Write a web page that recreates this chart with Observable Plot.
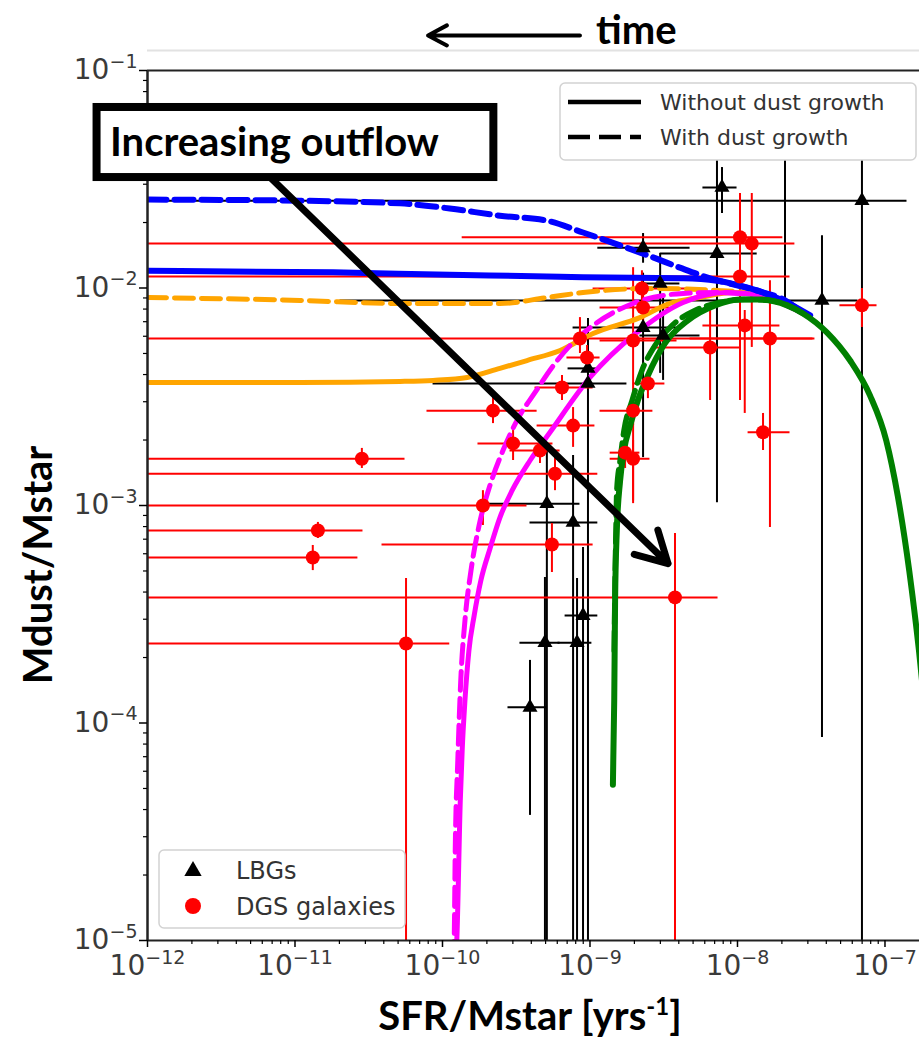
<!DOCTYPE html>
<html>
<head>
<meta charset="utf-8">
<script src="https://cdn.jsdelivr.net/npm/d3@7"></script>
<script src="https://cdn.jsdelivr.net/npm/@observablehq/plot@0.6"></script>
<style>
  body { margin: 0; background: #fff; }
  #chart { width: 919px; height: 1043px; }
  #chart svg g[aria-label="x-axis tick label"] text,
  #chart svg g[aria-label="y-axis tick label"] text { fill: #3a3a3a; }
</style>
</head>
<body>
<div id="chart"></div>
<script>
// ---------- axis ticks ----------
const xTicks = [1e-12, 1e-11, 1e-10, 1e-9, 1e-8, 1e-7];
const xTickLabels = ["10⁻¹²", "10⁻¹¹", "10⁻¹⁰", "10⁻⁹", "10⁻⁸", "10⁻⁷"];
const yTicks = [1e-5, 1e-4, 1e-3, 1e-2, 1e-1];
const yTickLabels = ["10⁻⁵", "10⁻⁴", "10⁻³", "10⁻²", "10⁻¹"];

// ---------- DGS galaxies (SFR/Mstar, Mdust/Mstar, error bounds) ----------
const dgsX   = [2.84e-11, 1.43e-11, 1.32e-11, 5.66e-11, 1.88e-10, 5.52e-10, 3.77e-9, 5.79e-10, 4.58e-10, 3.01e-10, 2.20e-10, 7.68e-10, 6.46e-10, 9.55e-10, 8.55e-10, 1.96e-9, 2.25e-9, 2.29e-9, 2.47e-9, 1.96e-9, 1.73e-9, 1.96e-9, 6.52e-9, 1.04e-8, 1.25e-8, 1.04e-8, 1.12e-8, 1.66e-8, 1.49e-8, 6.98e-8];
const dgsY   = [1.64e-3, 7.67e-4, 5.77e-4, 2.32e-4, 1.0e-3, 6.62e-4, 3.78e-4, 1.40e-3, 1.79e-3, 1.93e-3, 2.73e-3, 2.33e-3, 3.49e-3, 4.79e-3, 5.86e-3, 5.74e-3, 9.95e-3, 8.13e-3, 3.64e-3, 2.73e-3, 1.75e-3, 1.64e-3, 5.33e-3, 1.71e-2, 1.60e-2, 1.13e-2, 6.73e-3, 5.86e-3, 2.17e-3, 8.32e-3];
const dgsXlo = [5e-13, 5e-13, 5e-13, 5e-13, 5e-13, 3.89e-11, 5e-13, 5e-13, 2.87e-10, 1.74e-10, 7.85e-11, 4.38e-10, 4.24e-10, 6.98e-10, 5e-13, 1.17e-9, 1.05e-9, 1.17e-9, 1.96e-9, 1.17e-9, 1.37e-9, 1.37e-9, 2.76e-9, 1.36e-10, 5e-13, 5e-13, 5.83e-9, 4.77e-9, 1.18e-8, 4.95e-8];
const dgsXhi = [5.57e-11, 2.89e-11, 2.67e-11, 1.12e-10, 3.74e-10, 1.05e-9, 7.38e-9, 1.13e-9, 6.27e-10, 5.61e-10, 4.38e-10, 1.08e-9, 1.05e-9, 1.17e-9, 3.25e-8, 3.89e-9, 5.57e-9, 3.48e-9, 3.22e-9, 2.67e-9, 2.18e-9, 2.55e-9, 1.04e-8, 2.03e-8, 2.45e-8, 2.27e-8, 1.94e-8, 3.35e-8, 2.27e-8, 8.83e-8];
const dgsYlo = [1.48e-3, 7.05e-4, 5.02e-4, 5e-6, 8.09e-4, 4.92e-4, 5e-6, 1.17e-3, 1.56e-3, 1.61e-3, 2.38e-3, 1.85e-3, 3.04e-3, 4.27e-3, 5.0e-3, 1.05e-3, 8.32e-3, 6.73e-3, 3.10e-3, 2.33e-3, 1.48e-3, 1.02e-3, 3.04e-3, 3.04e-3, 5.33e-3, 9.53e-3, 2.65e-3, 7.92e-4, 1.79e-3, 6.58e-3];
const dgsYhi = [1.83e-3, 8.36e-4, 6.55e-4, 4.62e-4, 1.17e-3, 8.26e-4, 7.43e-4, 1.66e-3, 2.06e-3, 2.29e-3, 3.14e-3, 2.82e-3, 3.96e-3, 5.44e-3, 7.31e-3, 1.24e-2, 1.20e-2, 9.75e-3, 4.18e-3, 3.10e-3, 2.06e-3, 1.99e-3, 7.88e-3, 2.72e-2, 2.72e-2, 1.34e-2, 7.88e-3, 1.08e-2, 2.65e-3, 9.95e-3];

// ---------- LBGs ----------
const lbgX   = [7.85e-9, 6.98e-8, 2.29e-9, 7.26e-9, 2.99e-9, 2.29e-9, 3.13e-9, 9.69e-10, 9.69e-10, 3.74e-8, 5.10e-10, 7.68e-10, 8.97e-10, 4.95e-10, 8.17e-10, 3.92e-10, 2.10e-8];
const lbgY   = [2.90e-2, 2.52e-2, 1.53e-2, 1.44e-2, 1.05e-2, 6.58e-3, 6.05e-3, 4.27e-3, 3.64e-3, 8.77e-3, 1.02e-3, 8.36e-4, 3.12e-4, 2.34e-4, 2.34e-4, 1.18e-4, 5.89e-2];
const lbgXlo = [5.83e-9, 5e-13, 1.13e-9, 2.99e-9, 2.18e-9, 7.68e-10, 2.18e-9, 7.10e-10, 8.63e-11, 2.02e-11, 1.88e-10, 3.92e-10, 6.78e-10, 3.35e-10, 6.07e-10, 2.78e-10, 1.80e-8];
const lbgXhi = [9.93e-9, 1.41e-7, 4.77e-9, 1.36e-8, 4.07e-9, 3.89e-9, 5.57e-9, 1.11e-9, 1.78e-9, 6.56e-8, 8.55e-10, 1.13e-9, 1.13e-9, 6.27e-10, 1.03e-9, 5.10e-10, 2.45e-8];
const lbgYlo = [2.20e-2, 5e-6, 1.30e-2, 1.03e-3, 4.05e-3, 1.66e-3, 3.76e-3, 3.76e-3, 5e-6, 8.57e-5, 5e-6, 5e-6, 5e-6, 5e-6, 5e-6, 3.76e-5, 8.95e-3];
const lbgYhi = [3.58e-2, 4.29e-2, 1.78e-2, 4.0e-2, 1.44e-2, 1.17e-2, 9.04e-3, 7.24e-3, 5.44e-3, 1.74e-2, 1.79e-3, 1.70e-3, 6.41e-4, 4.67e-4, 4.62e-4, 1.94e-4, 7.28e-2];

// ---------- model tracks ----------
const blueSolidX = [1e-12, 1.81e-11, 1.12e-10, 5.10e-10, 8.97e-10, 4.28e-9, 7.26e-9, 1.22e-8, 2.03e-8, 3.11e-8];
const blueSolidY = [1.20e-2, 1.18e-2, 1.15e-2, 1.13e-2, 1.12e-2, 1.11e-2, 1.08e-2, 9.95e-3, 8.77e-3, 7.48e-3];
const blueDashX = [1e-12, 1.08e-11, 5.15e-11, 1.12e-10, 2.45e-10, 5.10e-10, 8.97e-10, 1.60e-9, 2.55e-9, 4.07e-9, 6.21e-9, 9.31e-9, 1.42e-8, 2.10e-8, 2.78e-8];
const blueDashY = [2.55e-2, 2.52e-2, 2.45e-2, 2.32e-2, 2.15e-2, 2.04e-2, 1.80e-2, 1.57e-2, 1.40e-2, 1.24e-2, 1.12e-2, 1.04e-2, 9.64e-3, 8.77e-3, 7.64e-3];
const orangeSolidX = [1e-12, 1.08e-11, 5.15e-11, 8.63e-11, 1.47e-10, 2.45e-10, 3.74e-10, 6.27e-10, 1.05e-9, 2.18e-9, 3.48e-9, 5.57e-9, 9.31e-9, 1.42e-8, 2.10e-8, 2.78e-8];
const orangeSolidY = [3.68e-3, 3.68e-3, 3.72e-3, 3.76e-3, 3.88e-3, 4.27e-3, 4.64e-3, 5.16e-3, 6.18e-3, 7.31e-3, 8.49e-3, 9.04e-3, 9.53e-3, 9.34e-3, 8.68e-3, 7.64e-3];
const orangeDashX = [1e-12, 1.08e-11, 5.15e-11, 2.45e-10, 5.10e-10, 8.97e-10, 2.55e-9, 7.26e-9, 1.42e-8, 2.27e-8, 2.78e-8];
const orangeDashY = [9.04e-3, 8.77e-3, 8.49e-3, 8.49e-3, 9.04e-3, 9.53e-3, 9.95e-3, 9.75e-3, 9.34e-3, 8.49e-3, 7.64e-3];
const magentaSolidX = [1.23e-10, 1.25e-10, 1.32e-10, 1.36e-10, 1.42e-10, 1.51e-10, 1.64e-10, 1.82e-10, 2.10e-10, 2.45e-10, 2.96e-10, 3.92e-10, 5.36e-10, 1.0e-9, 2.08e-9, 4.28e-9, 8.49e-9, 1.42e-8, 1.94e-8, 2.78e-8];
const magentaSolidY = [8.1e-6, 1e-5, 4.4e-5, 7.5e-5, 1.27e-4, 2.15e-4, 3.12e-4, 4.52e-4, 6.34e-4, 8.8e-4, 1.17e-3, 1.61e-3, 2.17e-3, 3.88e-3, 6.24e-3, 8.58e-3, 9.53e-3, 9.24e-3, 8.58e-3, 7.64e-3];
const magentaDashX = [1.18e-10, 1.20e-10, 1.22e-10, 1.27e-10, 1.33e-10, 1.42e-10, 1.56e-10, 1.77e-10, 2.10e-10, 2.57e-10, 3.25e-10, 4.24e-10, 5.52e-10, 7.55e-10, 1.05e-9, 1.96e-9, 4.28e-9, 7.26e-9, 1.22e-8, 1.94e-8, 2.78e-8];
const magentaDashY = [8.1e-6, 1e-5, 2.59e-5, 6.73e-5, 1.57e-4, 2.96e-4, 5.02e-4, 8.09e-4, 1.24e-3, 1.79e-3, 2.51e-3, 3.31e-3, 4.31e-3, 5.56e-3, 6.73e-3, 8.49e-3, 9.44e-3, 9.53e-3, 9.34e-3, 8.58e-3, 7.64e-3];
const greenSolidX = [1.43e-9, 1.46e-9, 1.48e-9, 1.52e-9, 1.60e-9, 1.70e-9, 1.87e-9, 2.11e-9, 2.47e-9, 3.22e-9, 4.61e-9, 7.03e-9, 1.04e-8, 1.42e-8, 2.17e-8, 2.78e-8, 4.05e-8, 5.80e-8, 7.91e-8, 1.02e-7, 1.22e-7, 1.46e-7, 1.70e-7, 1.96e-7];
const greenSolidY = [5.2e-5, 1.27e-4, 3.66e-4, 7.67e-4, 1.30e-3, 1.79e-3, 2.33e-3, 3.04e-3, 3.96e-3, 5.56e-3, 7.10e-3, 8.32e-3, 8.86e-3, 8.86e-3, 8.32e-3, 7.64e-3, 6.24e-3, 4.64e-3, 3.21e-3, 1.99e-3, 1.11e-3, 5.02e-4, 2.15e-4, 8.3e-5];
const greenDashX = [1.46e-9, 1.48e-9, 1.50e-9, 1.52e-9, 1.60e-9, 1.70e-9, 1.93e-9, 2.25e-9, 2.76e-9, 3.60e-9, 5.15e-9, 7.60e-9, 1.12e-8, 1.66e-8, 2.27e-8, 2.78e-8];
const greenDashY = [2.15e-4, 4.52e-4, 7.67e-4, 1.17e-3, 1.61e-3, 2.21e-3, 3.04e-3, 4.18e-3, 5.44e-3, 6.73e-3, 7.88e-3, 8.58e-3, 8.86e-3, 8.77e-3, 8.22e-3, 7.64e-3];

// ---------- annotations (data coordinates) ----------
const outflowArrow = [{x1: 5.61e-12, y1: 3.66e-2, x2: 3.38e-9, y2: 5.41e-4}];
const outflowBox = [{x1: 4.55e-13, x2: 2.23e-10, y1: 6.76e-2, y2: 3.22e-2}];
const outflowLabel = [{x: 5.57e-13, y: 4.62e-2, text: "Increasing outflow"}];
const timeArrow = [{x1: 8.55e-10, y1: 0.145, x2: 7.98e-11, y2: 0.145}];
const timeLabel = [{x: 1.10e-9, y: 0.152, text: "time"}];
const topRule = [0.1236];

// ---------- legend text ----------
const styleLegend = ["Without dust growth", "With dust growth"];
const sampleLegend = ["LBGs", "DGS galaxies"];

// ---------- tables ----------
const dgs = dgsX.map((x, i) => ({x, y: dgsY[i], xlo: dgsXlo[i], xhi: dgsXhi[i], ylo: dgsYlo[i], yhi: dgsYhi[i]}));
const lbg = lbgX.map((x, i) => ({x, y: lbgY[i], xlo: lbgXlo[i], xhi: lbgXhi[i], ylo: lbgYlo[i], yhi: lbgYhi[i]}));
const pairs = (xs, ys) => xs.map((x, i) => [x, ys[i]]);

const curves = [
  {d: pairs(orangeSolidX, orangeSolidY), color: "#ffa500", w: 5, dash: null},
  {d: pairs(orangeDashX, orangeDashY), color: "#ffa500", w: 5, dash: "19,8"},
  {d: pairs(magentaSolidX, magentaSolidY), color: "#ff00ff", w: 5, dash: null},
  {d: pairs(magentaDashX, magentaDashY), color: "#ff00ff", w: 5, dash: "19,8"},
  {d: pairs(blueSolidX, blueSolidY), color: "#0000ff", w: 6, dash: null},
  {d: pairs(blueDashX, blueDashY), color: "#0000ff", w: 6, dash: "19,8"},
  {d: pairs(greenDashX, greenDashY), color: "#008000", w: 5.5, dash: "19,8"},
  {d: pairs(greenSolidX, greenSolidY), color: "#008000", w: 6, dash: null}
];

const minorX = [];
for (let e = -12; e <= -7; e++) for (let k = 2; k <= 9; k++) { const v = k * 10 ** e; if (v < 1.7e-7) minorX.push(v); }
const minorY = [];
for (let e = -5; e <= -2; e++) for (let k = 2; k <= 9; k++) minorY.push(k * 10 ** e);

const plot = Plot.plot({
  width: 919,
  height: 1043,
  marginLeft: 147,
  marginRight: 0,
  marginTop: 70,
  marginBottom: 103,
  x: {type: "log", domain: [1e-12, 1.714e-7]},
  y: {type: "log", domain: [1e-5, 1e-1]},
  style: {fontFamily: "DejaVu Sans", background: "white", overflow: "visible"},
  marks: [
    Plot.ruleY(topRule, {stroke: "#e2e2e2", strokeWidth: 2}),
    // error bars
    Plot.ruleY(lbg, {y: "y", x1: "xlo", x2: "xhi", stroke: "black", strokeWidth: 2, clip: true}),
    Plot.ruleX(lbg, {x: "x", y1: "ylo", y2: "yhi", stroke: "black", strokeWidth: 2, clip: true}),
    Plot.ruleY(dgs, {y: "y", x1: "xlo", x2: "xhi", stroke: "#ff0000", strokeWidth: 2, clip: true}),
    Plot.ruleX(dgs, {x: "x", y1: "ylo", y2: "yhi", stroke: "#ff0000", strokeWidth: 2, clip: true}),
    // model tracks
    ...curves.map(c => Plot.line(c.d, {stroke: c.color, strokeWidth: c.w, strokeDasharray: c.dash, curve: "monotone-x", clip: true})),
    // markers
    Plot.dot(lbg, {x: "x", y: "y", symbol: "triangle", r: 5.6, fill: "black", clip: true}),
    Plot.dot(dgs, {x: "x", y: "y", r: 7, fill: "#ff0000", clip: true}),
    // frame
    Plot.ruleX([1e-12], {stroke: "#222", strokeWidth: 2.5}),
    Plot.ruleY([1e-5, 1e-1], {stroke: "#222", strokeWidth: 2}),
    // axes
    Plot.axisX(xTicks, {anchor: "bottom", tickSize: 7, tickPadding: 8, fontSize: 28, tickFormat: d => xTickLabels[xTicks.indexOf(d)], label: null, strokeWidth: 1.5}),
    Plot.axisX(minorX, {anchor: "bottom", tickSize: 4, tickFormat: () => "", label: null, strokeWidth: 1.2}),
    Plot.axisY(yTicks, {anchor: "left", tickSize: 8, tickPadding: 2, fontSize: 28, tickFormat: d => yTickLabels[yTicks.indexOf(d)], label: null, strokeWidth: 1.5}),
    Plot.axisY(minorY, {anchor: "left", tickSize: 4, tickFormat: () => "", label: null, strokeWidth: 1.2}),
    // annotations
    Plot.arrow(outflowArrow, {x1: "x1", y1: "y1", x2: "x2", y2: "y2", stroke: "black", strokeWidth: 7, headLength: 7.5, headAngle: 58}),
    Plot.rect(outflowBox, {x1: "x1", x2: "x2", y1: "y1", y2: "y2", fill: "white", stroke: "black", strokeWidth: 8}),
    Plot.text(outflowLabel, {x: "x", y: "y", text: "text", textAnchor: "start", fontSize: 40, fontWeight: "bold", fontFamily: "Lato", fill: "black"}),
    Plot.arrow(timeArrow, {x1: "x1", y1: "y1", x2: "x2", y2: "y2", stroke: "black", strokeWidth: 4, headLength: 8, headAngle: 56}),
    Plot.text(timeLabel, {x: "x", y: "y", text: "text", textAnchor: "start", fontSize: 40, fontWeight: "bold", fontFamily: "Lato", fill: "black"})
  ]
});

document.getElementById("chart").appendChild(plot);
const svg = d3.select(plot);

// power-of-ten tick labels: base at full size, exponent raised and smaller
const plainDigits = {"⁻": "−", "⁰": "0", "¹": "1", "²": "2", "³": "3", "⁴": "4", "⁵": "5", "⁶": "6", "⁷": "7", "⁸": "8", "⁹": "9"};
svg.selectAll('g[aria-label="x-axis tick label"] text, g[aria-label="y-axis tick label"] text').each(function () {
  const t = d3.select(this);
  const s = t.text();
  if (!s) return;
  const exp = [...s.slice(2)].map(c => plainDigits[c] || c).join("");
  t.text(null);
  t.append("tspan").text(s.slice(0, 2));
  t.append("tspan").attr("font-size", "0.68em").attr("dy", "-0.62em").text(exp);
});

// legend: line styles
const lg1 = svg.append("g").attr("font-family", "DejaVu Sans").attr("font-size", 22).attr("fill", "#333").attr("text-anchor", "start");
lg1.append("rect").attr("x", 560).attr("y", 83).attr("width", 356).attr("height", 77).attr("rx", 5)
  .attr("fill", "white").attr("stroke", "#d2d2d2").attr("stroke-width", 1.5);
[null, "22,9"].forEach((dash, i) => {
  const yy = 102 + i * 35;
  lg1.append("line").attr("x1", 568).attr("x2", 641).attr("y1", yy).attr("y2", yy)
    .attr("stroke", "black").attr("stroke-width", 4.5).attr("stroke-dasharray", dash);
  lg1.append("text").attr("x", 660).attr("y", yy + 8).attr("text-anchor", "start").text(styleLegend[i]);
});

// legend: samples
const lg2 = svg.append("g").attr("font-family", "DejaVu Sans").attr("font-size", 24).attr("fill", "#333").attr("text-anchor", "start");
lg2.append("rect").attr("x", 159).attr("y", 850).attr("width", 246).attr("height", 78).attr("rx", 5)
  .attr("fill", "white").attr("stroke", "#d2d2d2").attr("stroke-width", 1.5);
lg2.append("path").attr("d", d3.symbol(d3.symbolTriangle, 130)()).attr("transform", "translate(193,871)").attr("fill", "black");
lg2.append("circle").attr("cx", 193).attr("cy", 906).attr("r", 8).attr("fill", "#ff0000");
sampleLegend.forEach((t, i) => lg2.append("text").attr("x", 236).attr("y", 879 + i * 36).attr("text-anchor", "start").text(t));

// axis titles
svg.append("text").attr("transform", "translate(52,565) rotate(-90)").attr("text-anchor", "middle")
  .attr("font-family", "Lato").attr("font-weight", "bold").attr("font-size", 40).attr("fill", "black")
  .text("Mdust/Mstar");
const xt = svg.append("text").attr("x", 530).attr("y", 1030).attr("text-anchor", "middle")
  .attr("font-family", "Lato").attr("font-weight", "bold").attr("font-size", 40).attr("fill", "black");
xt.append("tspan").text("SFR/Mstar [yrs");
xt.append("tspan").attr("dy", -15).attr("font-size", 24).text("-1");
xt.append("tspan").attr("dy", 15).text("]");
</script>
</body>
</html>
